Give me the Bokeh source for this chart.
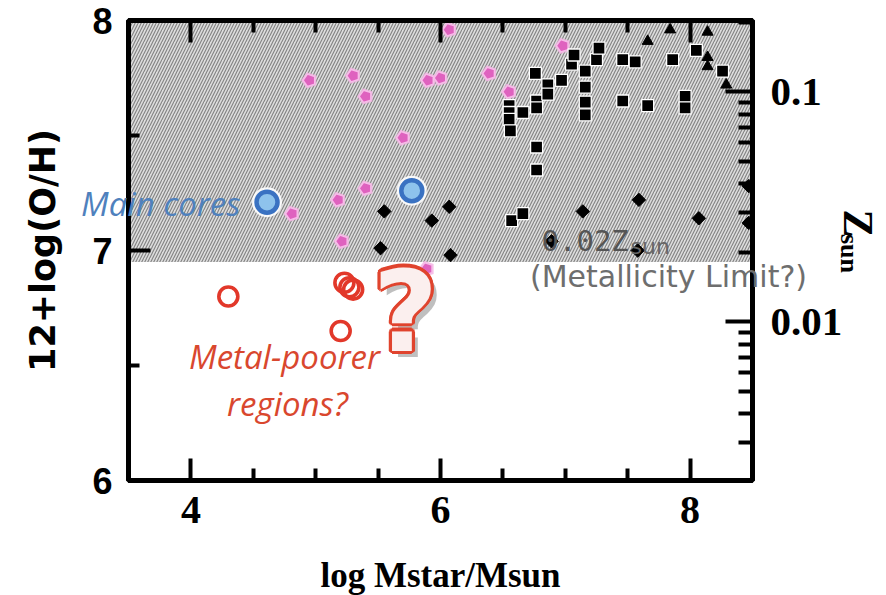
import math
from bokeh.plotting import figure
from bokeh.models import (Range1d, LinearAxis, LogAxis, LogScale, FixedTicker,
                          Label, CustomJSTickFormatter)
from bokeh.embed import file_html
from bokeh.resources import INLINE

# ---------------- data ----------------
SOLAR_OH = 8.69          # 12+log(O/H) of the Sun
LIMIT_OH = 6.95          # 0.02 Zsun "metallicity limit"
X_RANGE = (3.5, 8.5)
Y_RANGE = (6.0, 8.0)

x_major = [4, 6, 8]
x_minor = [4.5, 5, 5.5, 6.5, 7, 7.5]
y_major = [6, 7, 8]
y_minor = [6.5, 7.5]
z_major = [0.01, 0.1]
z_minor = [0.003, 0.004, 0.005, 0.006, 0.007, 0.008, 0.009,
           0.02, 0.03, 0.04, 0.05, 0.06, 0.07, 0.08, 0.09, 0.2]

# pink pentagons
pent_x = [4.95, 5.30, 5.40, 5.90, 6.00, 6.07, 5.70, 5.40, 5.18, 4.81, 5.21, 5.89, 6.39, 6.55, 6.98]
pent_y = [7.74, 7.76, 7.67, 7.74, 7.75, 7.96, 7.49, 7.27, 7.22, 7.16, 7.04, 6.92, 7.77, 7.69, 7.89]

# black squares
sq_x = [6.55, 6.55, 6.55, 6.56, 6.66, 6.76, 6.77, 6.77, 6.86, 6.86, 6.97, 7.05, 7.07,
        7.16, 7.16, 7.16, 7.16, 7.25, 7.27, 7.46, 7.56, 7.86, 8.05, 8.26, 7.46, 7.66,
        7.96, 7.96, 6.77, 6.77, 6.57, 6.66]
sq_y = [7.63, 7.60, 7.57, 7.52, 7.60, 7.77, 7.65, 7.62, 7.72, 7.68, 7.74, 7.81, 7.85,
        7.78, 7.71, 7.645, 7.59, 7.83, 7.88, 7.83, 7.82, 7.83, 7.87, 7.78, 7.65, 7.63,
        7.67, 7.62, 7.45, 7.35, 7.13, 7.16]

# black diamonds
dia_x = [5.55, 5.93, 5.52, 6.07, 6.08, 6.89, 7.14, 7.59, 7.58, 8.07, 8.47, 8.47]
dia_y = [7.17, 7.13, 7.01, 7.19, 6.98, 7.04, 7.17, 7.22, 7.00, 7.14, 7.28, 7.12]

# black triangles
tri_x = [7.66, 7.84, 8.14, 8.14, 8.14, 8.29]
tri_y = [7.91, 7.96, 7.95, 7.84, 7.80, 7.72]

# main cores (blue)
core_x = [4.61, 5.77]
core_y = [7.21, 7.26]

# metal-poorer candidates (red open circles)
poor_x = [4.30, 5.20, 5.23, 5.27, 5.30]
poor_y = [6.80, 6.65, 6.86, 6.84, 6.83]

# ---------------- figure ----------------
FW, FH = 624, 460
ML, MR, MT, MB = 128, 130, 20, 113
W, H = ML + FW + MR, MT + FH + MB

p = figure(frame_width=FW, frame_height=FH,
           x_range=Range1d(*X_RANGE), y_range=Range1d(*Y_RANGE),
           output_backend="svg", toolbar_location=None,
           min_border_left=ML, min_border_right=MR,
           min_border_top=MT, min_border_bottom=MB,
           x_axis_label="log Mstar/Msun", y_axis_label="12+log(O/H)")
p.grid.visible = False
p.outline_line_color = "black"
p.outline_line_width = 5
p.background_fill_color = "white"
p.border_fill_color = "white"

def style_axis(ax, major_in, minor_in):
    ax.axis_line_width = 5
    ax.axis_line_color = "black"
    ax.major_tick_in = major_in
    ax.major_tick_out = 0
    ax.minor_tick_in = minor_in
    ax.minor_tick_out = 0
    ax.major_tick_line_width = 4
    ax.minor_tick_line_width = 4
    ax.major_tick_line_color = "black"
    ax.minor_tick_line_color = "black"
    ax.major_label_text_color = "black"

# bottom axis
xa = p.xaxis[0]
xa.ticker = FixedTicker(ticks=x_major, minor_ticks=x_minor)
style_axis(xa, 22, 12)
xa.major_label_text_font = "Liberation Serif"
xa.major_label_text_font_style = "bold"
xa.major_label_text_font_size = "40px"
xa.major_label_standoff = 16
xa.axis_label_text_font = "Liberation Serif"
xa.axis_label_text_font_style = "bold"
xa.axis_label_text_font_size = "35px"
xa.axis_label_standoff = 30
xa.axis_label_text_color = "black"

# left axis
ya = p.yaxis[0]
ya.ticker = FixedTicker(ticks=y_major, minor_ticks=y_minor)
style_axis(ya, 22, 11)
ya.major_label_text_font = "Liberation Sans"
ya.major_label_text_font_style = "bold"
ya.major_label_text_font_size = "36px"
ya.major_label_standoff = 16
ya.axis_label_text_font = "DejaVu Sans"
ya.axis_label_text_font_style = "bold"
ya.axis_label_text_font_size = "35px"
ya.axis_label_standoff = 26
ya.axis_label_text_color = "black"

# top axis (ticks only)
ta = LinearAxis(ticker=FixedTicker(ticks=x_major, minor_ticks=x_minor),
                formatter=CustomJSTickFormatter(code="return '';"),
                major_label_standoff=0)
style_axis(ta, 22, 12)
p.add_layout(ta, "above")

# right axis: Z/Zsun on a log scale
p.extra_y_ranges = {"z": Range1d(10 ** (Y_RANGE[0] - SOLAR_OH), 10 ** (Y_RANGE[1] - SOLAR_OH))}
p.extra_y_scales = {"z": LogScale()}
ra = LogAxis(y_range_name="z",
             ticker=FixedTicker(ticks=z_major, minor_ticks=z_minor),
             formatter=CustomJSTickFormatter(code="return tick < 0.05 ? '0.01' : '0.1';"))
style_axis(ra, 27, 14)
ra.major_label_text_font = "Liberation Serif"
ra.major_label_text_font_style = "bold"
ra.major_label_text_font_size = "41px"
ra.major_label_standoff = 18
p.add_layout(ra, "right")

# hatched region above the metallicity limit
p.quad(left=[X_RANGE[0]], right=[X_RANGE[1]], bottom=[LIMIT_OH], top=[Y_RANGE[1]],
       fill_color="#dedede", line_color=None,
       hatch_pattern="/", hatch_color="#858585", hatch_scale=6, hatch_weight=1.2)

# ---------------- markers ----------------
p.ngon(x=pent_x, y=pent_y, radius=8.5, radius_units="screen", n=5, angle=math.pi / 2,
       fill_color="#f4b3e4", line_color=None, alpha=0.8)
p.ngon(x=pent_x, y=pent_y, radius=6.5, radius_units="screen", n=5, angle=math.pi / 2,
       fill_color="#df62bf", line_color="#f6bde8", line_width=1.5)

p.scatter(x=sq_x, y=sq_y, marker="square", size=12, fill_color="black",
          line_color="white", line_width=1.3)
p.scatter(x=dia_x, y=dia_y, marker="square", angle=math.pi / 4, size=9.5,
          fill_color="black", line_color="black")
p.scatter(x=tri_x, y=tri_y, marker="triangle", size=11, fill_color="black",
          line_color="black")

p.scatter(x=core_x, y=core_y, marker="circle", size=30, fill_color="white",
          line_color=None, fill_alpha=0.9)
p.scatter(x=core_x, y=core_y, marker="circle", size=21, fill_color="#8ec3ec",
          line_color="#3a72c2", line_width=4.5)

p.scatter(x=poor_x, y=poor_y, marker="circle", size=19, fill_color=None,
          line_color="#e2382a", line_width=3.6)

# ---------------- transparent overlay for free-floating annotations ----------------
# (center annotations of a plot are clipped to its frame, so texts that cross the
#  frame border live on a separate transparent, frameless canvas of the same size
#  laid exactly over the plot)
q = figure(frame_width=W, frame_height=H, x_range=Range1d(0, W), y_range=Range1d(H, 0),
           output_backend="svg", toolbar_location=None,
           min_border_left=0, min_border_right=0, min_border_top=0, min_border_bottom=0,
           x_axis_type=None, y_axis_type=None)
q.grid.visible = False
q.outline_line_color = None
q.background_fill_color = None
q.border_fill_color = None
q.styles = {"position": "absolute", "top": "0px", "left": "0px", "pointer-events": "none"}

def lab(px, py, text, **kw):
    q.add_layout(Label(x=px, y=py, x_units="canvas", y_units="canvas",
                       text=text, **kw))

lab(240, 203, "Main cores", text_align="right", text_baseline="middle",
    text_font="Open Sans", text_font_style="italic", text_font_size="33px",
    text_color="#4f81bd")

lab(284, 356, "Metal-poorer", text_align="center", text_baseline="middle",
    text_font="Open Sans", text_font_style="italic", text_font_size="33px",
    text_color="#d9472e")
lab(287, 403, "regions?", text_align="center", text_baseline="middle",
    text_font="Open Sans", text_font_style="italic", text_font_size="33px",
    text_color="#d9472e")

lab(541, 240, "0.02Z", text_align="left", text_baseline="middle",
    text_font="DejaVu Sans Mono", text_font_size="29px", text_color="#555555")
lab(630, 246, "sun", text_align="left", text_baseline="middle",
    text_font="DejaVu Sans", text_font_size="22px", text_color="#666666")
lab(668, 276, "(Metallicity Limit?)", text_align="center", text_baseline="middle",
    text_font="DejaVu Sans", text_font_size="30px", text_color="#6e6e6e")

# right-axis title  Z_sun (rotated)
lab(857, 223, "Z", angle=-math.pi / 2, text_align="center", text_baseline="middle",
    text_font="Liberation Serif", text_font_style="bold",
    text_font_size="42px", text_color="black")
lab(849, 253, "sun", angle=-math.pi / 2, text_align="center", text_baseline="middle",
    text_font="Liberation Serif", text_font_style="bold",
    text_font_size="26px", text_color="black")

# big outlined question mark
QX, QY = 405, 311
qkw = dict(text_align="center", text_baseline="middle", text_font="DejaVu Sans",
           text_font_style="bold", text_font_size="112px")
lab(QX, QY, "?", x_offset=6, y_offset=-6, text_color="#8a8a8a", text_alpha=0.55, **qkw)
for k in range(12):
    a = 2 * math.pi * k / 12
    lab(QX, QY, "?", x_offset=3.2 * math.cos(a), y_offset=3.2 * math.sin(a),
        text_color="#e0442e", **qkw)
lab(QX, QY, "?", text_color="#fbefee", **qkw)

open("out.html", "w").write(file_html([p, q], INLINE))
